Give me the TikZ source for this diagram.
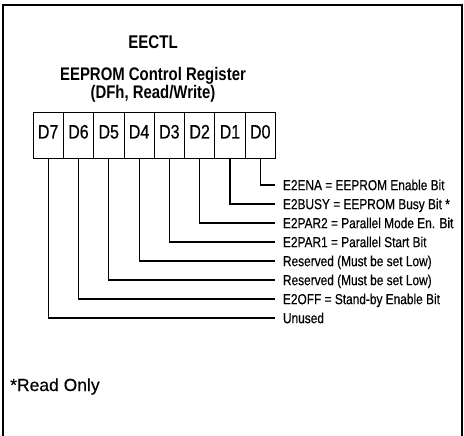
\documentclass[tikz,border=0pt]{standalone}
\usepackage{fontspec}
\setmainfont[FakeBold=0.4]{Liberation Sans}
\newfontfamily\narrowsans[FakeStretch=0.82]{Liberation Sans}
\newfontfamily\labelsans[FakeStretch=0.82, FakeBold=0.4]{Liberation Sans}
\usetikzlibrary{positioning}

\begin{document}
\begin{tikzpicture}[x=1pt, y=-1pt,
    cell/.style={rectangle, draw, line width=0.8pt, outer sep=0pt,
      minimum width=30.3pt, minimum height=46pt, inner sep=0pt,
      text height=14pt, text depth=7pt,
      font=\labelsans\fontsize{19.5}{21}\selectfont},
    bitlabel/.style={anchor=west, inner xsep=8pt, inner ysep=0pt,
      outer sep=0pt, text height=10.3pt, text depth=0pt,
      font=\labelsans\fontsize{14.5}{16}\selectfont},
    leader/.style={line width=1.1pt}
]
\useasboundingbox (0,0) rectangle (464,436);
%% Cadre
\draw[line width=1.3pt] (3,436) -- (3,5) -- (462,5) -- (462,436);

%% Titre
\node[font=\narrowsans\bfseries\fontsize{18.4}{20}\selectfont] (regname) at (153,42) {EECTL};
\node[font=\narrowsans\bfseries\fontsize{18.2}{13}\selectfont, align=center]
  (regtitle) at (153,85) {EEPROM Control Register\\(DFh, Read/Write)};

%% Registre
\node[cell] (d7) at (48.15,135) {D7};
\node[cell, right=0pt of d7] (d6) {D6};
\node[cell, right=0pt of d6] (d5) {D5};
\node[cell, right=0pt of d5] (d4) {D4};
\node[cell, right=0pt of d4] (d3) {D3};
\node[cell, right=0pt of d3] (d2) {D2};
\node[cell, right=0pt of d2] (d1) {D1};
\node[cell, right=0pt of d1] (d0) {D0};

%% Bits
\node[bitlabel] (e2ena) at (275,185) {E2ENA = EEPROM Enable Bit};
\node[bitlabel] (e2busy) at (275,204) {E2BUSY = EEPROM Busy Bit *};
\node[bitlabel] (e2par2) at (275,223) {E2PAR2 = Parallel Mode En. Bit};
\node[bitlabel] (e2par1) at (275,242) {E2PAR1 = Parallel Start Bit};
\node[bitlabel] (resv4) at (275,261) {Reserved (Must be set Low)};
\node[bitlabel] (resv5) at (275,280) {Reserved (Must be set Low)};
\node[bitlabel] (e2off) at (275,299) {E2OFF = Stand-by Enable Bit};
\node[bitlabel] (unused) at (275,318) {Unused};
\draw[leader] (d0.south) |- (e2ena.west);
\draw[leader] (d1.south) |- (e2busy.west);
\draw[leader] (d2.south) |- (e2par2.west);
\draw[leader] (d3.south) |- (e2par1.west);
\draw[leader] (d4.south) |- (resv4.west);
\draw[leader] (d5.south) |- (resv5.west);
\draw[leader] (d6.south) |- (e2off.west);
\draw[leader] (d7.south) |- (unused.west);

\node[anchor=base west, inner sep=0pt, font=\fontsize{17.5}{20}\selectfont]
  (note) at (10,391) {*Read Only};
\end{tikzpicture}
\end{document}
